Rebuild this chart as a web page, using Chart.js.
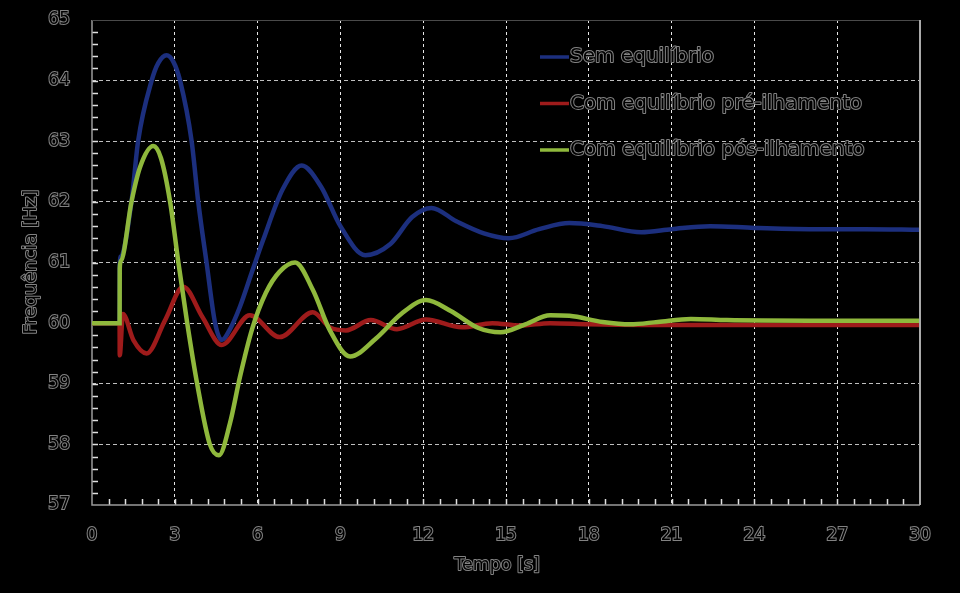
<!DOCTYPE html>
<html>
<head>
<meta charset="utf-8">
<script src="https://cdn.jsdelivr.net/npm/chart.js@4.4.1/dist/chart.umd.min.js"></script>
<style>
  html, body { margin: 0; padding: 0; background: #000; }
  #wrap { width: 960px; height: 593px; }
</style>
</head>
<body>
<div id="wrap"><canvas id="chart" width="960" height="593"></canvas></div>
<script>
// time [s] / frequency [Hz]
const tSem = [0, 1.0, 1.005, 1.05, 1.43, 1.67, 2.16, 2.4, 2.7, 2.95, 3.19, 3.61, 3.85, 4.15, 4.46, 4.7, 5.0, 5.36, 5.8, 6.2, 6.9, 7.6, 8.3, 9.0, 9.9, 10.8, 11.6, 12.3, 13.2, 14.2, 15.1, 16.2, 17.3, 18.5, 19.9, 21.0, 22.4, 24, 26, 28, 30];
const fSem = [60, 60, 60.95, 61.1, 62.0, 63.0, 64.0, 64.29, 64.42, 64.31, 64.0, 63.0, 62.0, 61.0, 60.0, 59.72, 59.9, 60.27, 60.85, 61.37, 62.2, 62.6, 62.25, 61.6, 61.12, 61.3, 61.75, 61.9, 61.68, 61.48, 61.4, 61.55, 61.65, 61.6, 61.5, 61.55, 61.6, 61.57, 61.55, 61.55, 61.54];

const tPre = [0, 1.0, 1.005, 1.12, 1.5, 1.98, 2.65, 3.31, 4.0, 4.7, 5.72, 6.8, 8.0, 8.62, 9.2, 10.1, 11.05, 12.1, 13.4, 14.5, 15.5, 16.6, 18, 20, 24, 30];
const fPre = [60, 60, 59.47, 60.15, 59.72, 59.5, 60.05, 60.6, 60.1, 59.64, 60.13, 59.77, 60.18, 59.93, 59.88, 60.05, 59.9, 60.06, 59.93, 60.0, 59.96, 60.0, 59.98, 59.97, 59.97, 59.97];

const tPos = [0, 1.0, 1.005, 1.05, 1.43, 1.74, 2.22, 2.5, 2.83, 3.13, 3.45, 3.81, 4.27, 4.6, 5.0, 5.36, 5.8, 6.3, 6.8, 7.36, 8.0, 8.62, 9.35, 10.3, 11.2, 12.1, 13.0, 14.0, 14.8, 15.7, 16.6, 17.3, 18.5, 19.5, 20.5, 21.7, 23, 26, 30];
const fPos = [60, 60, 60.9, 61.03, 62.0, 62.57, 62.92, 62.72, 62.0, 61.0, 60.0, 59.0, 58.0, 57.82, 58.35, 59.11, 59.9, 60.5, 60.85, 61.0, 60.55, 59.88, 59.45, 59.75, 60.15, 60.38, 60.2, 59.92, 59.85, 59.98, 60.13, 60.12, 60.02, 59.98, 60.02, 60.07, 60.05, 60.04, 60.04];

const xTickStep = 3;
const yTickStep = 1;

const seriesNames = ['Sem equilíbrio', 'Com equilíbrio pré-ilhamento', 'Com equilíbrio pós-ilhamento'];
const seriesColors = ['#1c2f7e', '#9e1b1b', '#8fb83c'];

const FONT = 'DejaVu Sans';
const TXT_STROKE = '#828282';
const toPts = (ts, fs) => ts.map((t, i) => ({ x: t, y: fs[i] }));

function outlinedText(ctx, text, x, y, size, align) {
  ctx.save();
  ctx.font = `${size}px "${FONT}"`;
  ctx.textAlign = align || 'left';
  ctx.textBaseline = 'middle';
  ctx.lineWidth = 2;
  ctx.lineJoin = 'round';
  ctx.strokeStyle = TXT_STROKE;
  ctx.strokeText(text, x, y);
  ctx.fillStyle = '#000';
  ctx.fillText(text, x, y);
  ctx.restore();
}

const decor = {
  id: 'decor',
  beforeDraw(chart) {
    const { ctx } = chart;
    ctx.save();
    ctx.fillStyle = '#000';
    ctx.fillRect(0, 0, chart.width, chart.height);
    ctx.restore();
  },
  beforeDatasetsDraw(chart) {
    const { ctx, chartArea: a, scales: { x, y } } = chart;
    ctx.save();
    // minor ticks pointing into the plot
    ctx.strokeStyle = '#e0e0e0';
    ctx.lineWidth = 1.5;
    ctx.beginPath();
    for (let i = 1; i < 50; i++) {
      const px = Math.round(x.getPixelForValue(i * 0.6)) + 0.5;
      ctx.moveTo(px, a.bottom);
      ctx.lineTo(px, a.bottom - 6);
    }
    for (let i = 1; i < 40; i++) {
      const py = Math.round(y.getPixelForValue(57 + i * 0.2)) + 0.5;
      ctx.moveTo(a.left, py);
      ctx.lineTo(a.left + 6, py);
    }
    ctx.stroke();
    // axis lines
    ctx.strokeStyle = '#9a9a9a';
    ctx.lineWidth = 1.5;
    ctx.beginPath();
    ctx.moveTo(a.left, a.top);
    ctx.lineTo(a.left, a.bottom);
    ctx.lineTo(a.right, a.bottom);
    ctx.stroke();
    ctx.restore();
  },
  afterDraw(chart) {
    const { ctx, chartArea: a } = chart;
    ctx.save();
    // frame: top dim, right light
    ctx.strokeStyle = '#4a4a4a';
    ctx.lineWidth = 1;
    ctx.beginPath();
    ctx.moveTo(a.left, a.top + 0.5);
    ctx.lineTo(a.right, a.top + 0.5);
    ctx.stroke();
    ctx.strokeStyle = '#aaaaaa';
    ctx.lineWidth = 2;
    ctx.beginPath();
    ctx.moveTo(a.right, a.top);
    ctx.lineTo(a.right, a.bottom);
    ctx.stroke();

    // legend
    seriesNames.forEach((name, i) => {
      const yy = 57 + i * 46.5;
      ctx.strokeStyle = seriesColors[i];
      ctx.lineWidth = 3.5;
      ctx.beginPath();
      ctx.moveTo(540, yy);
      ctx.lineTo(569, yy);
      ctx.stroke();
      outlinedText(ctx, name, 570, yy, 20, 'left');
    });

    // axis titles
    outlinedText(ctx, 'Tempo [s]', 497, 565, 17.5, 'center');
    ctx.translate(31, 262);
    ctx.rotate(-Math.PI / 2);
    outlinedText(ctx, 'Frequência [Hz]', 0, 0, 18.5, 'center');
    ctx.restore();
  }
};

const lineDs = (label, data, color, order) => ({
  label, data, borderColor: color, backgroundColor: color,
  borderWidth: 4.5, pointRadius: 0, fill: false,
  cubicInterpolationMode: 'monotone', order,
});

new Chart(document.getElementById('chart').getContext('2d'), {
  type: 'line',
  data: {
    datasets: [
      lineDs(seriesNames[0], toPts(tSem, fSem), seriesColors[0], 2),
      lineDs(seriesNames[1], toPts(tPre, fPre), seriesColors[1], 1),
      lineDs(seriesNames[2], toPts(tPos, fPos), seriesColors[2], 0),
    ],
  },
  options: {
    responsive: false,
    animation: false,
    layout: { padding: { top: 20, right: 40, left: 0, bottom: 0 } },
    plugins: { legend: { display: false }, tooltip: { enabled: false } },
    scales: {
      x: {
        type: 'linear', min: 0, max: 30,
        afterFit: (s) => { s.height = 88; },
        ticks: {
          stepSize: xTickStep, padding: 0, color: '#000',
          font: { family: FONT, size: 17 },
          textStrokeColor: TXT_STROKE, textStrokeWidth: 2,
        },
        grid: {
          drawTicks: true, tickLength: 20, tickColor: 'rgba(0,0,0,0)',
          color: (c) => (c.tick && (c.tick.value === 0 || c.tick.value === 30)) ? 'rgba(0,0,0,0)' : 'rgba(255,255,255,0.9)',
          lineWidth: 1,
        },
        border: { display: false, dash: [3, 3] },
      },
      y: {
        min: 57, max: 65,
        afterFit: (s) => { s.width = 92; },
        ticks: {
          stepSize: yTickStep, padding: 0, color: '#000',
          font: { family: FONT, size: 17 },
          textStrokeColor: TXT_STROKE, textStrokeWidth: 2,
        },
        grid: {
          drawTicks: true, tickLength: 22, tickColor: 'rgba(0,0,0,0)',
          color: (c) => (c.tick && (c.tick.value === 57 || c.tick.value === 65)) ? 'rgba(0,0,0,0)' : 'rgba(225,225,225,0.85)',
          lineWidth: 1,
        },
        border: { display: false, dash: [4, 3] },
      },
    },
  },
  plugins: [decor],
});
</script>
</body>
</html>
